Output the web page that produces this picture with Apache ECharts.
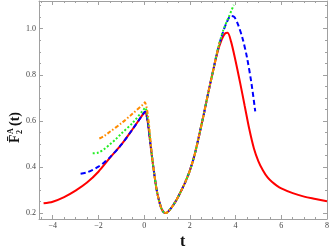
<!DOCTYPE html>
<html><head><meta charset="utf-8">
<script src="https://cdn.jsdelivr.net/npm/echarts@6/dist/echarts.min.js"></script>
<style>html,body{margin:0;padding:0;background:#fff}#c{width:332px;height:250px}</style>
</head><body><div id="c"></div>
<script>
// ---- data ----
const redData = [[-4.4,0.243],[-4.0,0.25],[-3.5,0.27],[-3.0,0.298],[-2.5,0.333],[-2.0,0.38],[-1.5,0.44],[-1.0,0.497],[-0.5,0.565],[0.0,0.636],[0.05,0.64],[0.15,0.6],[0.25,0.52],[0.35,0.44],[0.45,0.365],[0.55,0.3],[0.65,0.255],[0.75,0.222],[0.85,0.205],[0.95,0.201],[1.05,0.207],[1.2,0.225],[1.4,0.255],[1.6,0.293],[1.8,0.335],[2.0,0.385],[2.2,0.45],[2.4,0.535],[2.6,0.625],[2.8,0.72],[3.0,0.81],[3.2,0.895],[3.4,0.955],[3.55,0.98],[3.65,0.982],[3.8,0.945],[4.0,0.86],[4.2,0.765],[4.4,0.665],[4.6,0.565],[4.8,0.482],[5.0,0.425],[5.2,0.385],[5.4,0.355],[5.6,0.335],[5.8,0.32],[6.0,0.308],[6.5,0.287],[7.0,0.272],[7.5,0.262],[8.0,0.252]];
const blueData = [[-2.78,0.371],[-2.5,0.377],[-2.25,0.388],[-2.0,0.402],[-1.75,0.42],[-1.5,0.442],[-1.0,0.497],[-0.5,0.565],[0.0,0.636],[0.05,0.64],[0.15,0.6],[0.25,0.52],[0.35,0.44],[0.45,0.365],[0.55,0.3],[0.65,0.255],[0.75,0.222],[0.85,0.205],[0.95,0.201],[1.05,0.207],[1.2,0.225],[1.4,0.255],[1.6,0.293],[1.8,0.335],[2.0,0.385],[2.2,0.45],[2.4,0.535],[2.6,0.625],[2.8,0.72],[3.0,0.81],[3.2,0.9],[3.4,0.97],[3.6,1.025],[3.8,1.055],[3.95,1.05],[4.1,1.02],[4.3,0.96],[4.5,0.875],[4.7,0.76],[4.86,0.642]];
const greenData = [[-2.25,0.46],[-2.0,0.463],[-1.75,0.478],[-1.5,0.498],[-1.25,0.52],[-1.0,0.545],[-0.5,0.592],[0.0,0.652],[0.05,0.657],[0.15,0.615],[0.25,0.53],[0.35,0.44],[0.45,0.365],[0.55,0.3],[0.65,0.255],[0.75,0.222],[0.85,0.205],[0.95,0.201],[1.05,0.207],[1.2,0.225],[1.4,0.255],[1.6,0.293],[1.8,0.335],[2.0,0.385],[2.2,0.45],[2.4,0.535],[2.6,0.625],[2.8,0.72],[3.0,0.81],[3.2,0.9],[3.45,0.99],[3.7,1.05],[3.92,1.103]];
const orangeData = [[-1.96,0.524],[-1.75,0.535],[-1.5,0.553],[-1.0,0.59],[-0.5,0.632],[0.0,0.676],[0.03,0.681],[0.15,0.635],[0.25,0.545],[0.35,0.44],[0.45,0.365],[0.55,0.3],[0.65,0.255],[0.75,0.222],[0.85,0.205],[0.95,0.201],[1.05,0.207],[1.2,0.225],[1.4,0.255],[1.6,0.293],[1.8,0.335],[2.0,0.385],[2.2,0.45],[2.4,0.535],[2.6,0.625],[2.8,0.72],[3.0,0.81],[3.2,0.9],[3.3,0.94]];
const xMajor = [-4,-2,0,2,4,6,8];
const xMinor = [-4.5,-3.5,-3,-2.5,-1.5,-1,-0.5,0.5,1,1.5,2.5,3,3.5,4.5,5,5.5,6.5,7,7.5];
const yMajor = [0.2,0.4,0.6,0.8,1.0];
const yMinor = [0.25,0.3,0.35,0.45,0.5,0.55,0.65,0.7,0.75,0.85,0.9,0.95,1.05,1.1];

const FRAME = '#a0a0a0';
const SERIF = '"Liberation Serif","DejaVu Serif",serif';
function xAx(pos, ticks, len, showLabel, showLine){
  return {type:'value', min:-4.6, max:8, position:pos,
    axisLine:{show:showLine, onZero:false, lineStyle:{color:FRAME,width:1}},
    axisTick:{show:true, inside:true, length:len, customValues:ticks, lineStyle:{color:FRAME}},
    axisLabel:{show:showLabel, customValues:ticks, margin:3, fontSize:8, fontFamily:SERIF, color:'#444',
      formatter:v=>String(v).replace('-','\u2212')},
    splitLine:{show:false}};
}
function yAx(pos, ticks, len, showLabel, showLine){
  return {type:'value', min:0.175, max:1.12, position:pos,
    axisLine:{show:showLine, onZero:false, lineStyle:{color:FRAME,width:1}},
    axisTick:{show:true, inside:true, length:len, customValues:ticks, lineStyle:{color:FRAME}},
    axisLabel:{show:showLabel, customValues:ticks, margin:3, fontSize:8, fontFamily:SERIF, color:'#444',
      formatter:v=>v.toFixed(1)},
    splitLine:{show:false}};
}
const chart = echarts.init(document.getElementById('c'), null, {renderer:'canvas'});
chart.setOption({
  animation:false,
  grid:{left:39, right:2, top:1, bottom:31, containLabel:false},
  xAxis:[xAx('bottom',xMajor,4,true,true), xAx('bottom',xMinor,2,false,false), xAx('top',xMajor,4,false,true), xAx('top',xMinor,2,false,false)],
  yAxis:[yAx('left',yMajor,4,true,true), yAx('left',yMinor,2,false,false), yAx('right',yMajor,4,false,true), yAx('right',yMinor,2,false,false)],
  series:[
    {type:'line', data:redData, smooth:0.3, showSymbol:false, lineStyle:{color:'#ff0000', width:2}},
    {type:'line', data:blueData, smooth:0.3, showSymbol:false, lineStyle:{color:'#0000ff', width:2, type:[5,3]}},
    {type:'line', data:greenData, smooth:0.3, showSymbol:false, lineStyle:{color:'#22ee22', width:2, type:[2,2]}},
    {type:'line', data:orangeData, smooth:0.3, showSymbol:false, lineStyle:{color:'#ff8c00', width:2, type:[4,2,1.5,2]}}
  ],
  graphic:[
    {type:'text', left:180, top:234, style:{text:'t', font:'bold 16px '+SERIF, fill:'#111'}},
    {type:'group', x:15, y:118, rotation:Math.PI/2, children:[
      {type:'text', x:-25, y:0, style:{text:'F\u0304', font:'bold 14px '+SERIF, fill:'#111', verticalAlign:'middle', align:'left'}},
      {type:'text', x:-16, y:-4, style:{text:'A', font:'bold 8px '+SERIF, fill:'#111', verticalAlign:'middle', align:'left'}},
      {type:'text', x:-16, y:5, style:{text:'2', font:'bold 8px '+SERIF, fill:'#111', verticalAlign:'middle', align:'left'}},
      {type:'text', x:-8, y:0, style:{text:'(t)', font:'bold 14px '+SERIF, fill:'#111', verticalAlign:'middle', align:'left'}}
    ]}
  ]
});
</script></body></html>
